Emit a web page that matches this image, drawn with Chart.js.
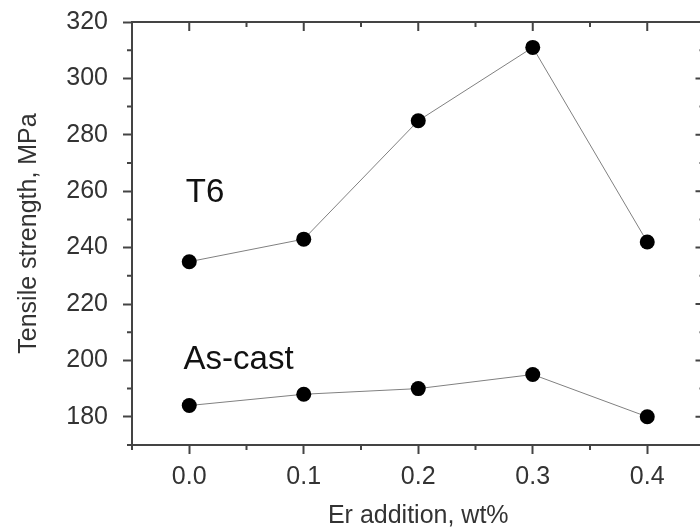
<!DOCTYPE html>
<html>
<head>
<meta charset="utf-8">
<script src="https://cdn.jsdelivr.net/npm/chart.js@4.4.0/dist/chart.umd.min.js"></script>
<style>
    html, body { margin: 0; padding: 0; background: #fff; }
    #wrap { width: 700px; height: 532px; overflow: hidden; position: relative; }
    #chart { display: block; }
</style>
</head>
<body>
<div id="wrap">
    <canvas id="chart" width="712" height="532"></canvas>
</div>
<script>
// Data
const erAddition = [0.0, 0.1, 0.2, 0.3, 0.4];
const t6Strength = [235, 243, 285, 311, 242];
const asCastStrength = [184, 188, 190, 195, 180];
const xTickLabels = ['0.0', '0.1', '0.2', '0.3', '0.4'];
const yTickLabels = [180, 200, 220, 240, 260, 280, 300, 320];

const axisColor = '#444';
const textColor = '#333';
const fontFamily = '"Liberation Sans", Arial, sans-serif';

function toPoints(ys) {
    return erAddition.map((x, i) => ({ x: x, y: ys[i] }));
}

function xMajor(v) {
    return xTickLabels.includes(v.toFixed(1)) && Math.round(v * 20) % 2 === 0;
}
function yMajor(v) {
    return yTickLabels.includes(Math.round(v));
}

// Minor ticks, mirrored top/right axes and in-plot labels
const framePlugin = {
    id: 'frame',
    afterDraw(chart) {
        const ctx = chart.ctx;
        const area = chart.chartArea;
        const xs = chart.scales.x;
        const ys = chart.scales.y;
        ctx.save();
        ctx.strokeStyle = axisColor;
        ctx.lineWidth = 2;
        ctx.beginPath();
        ctx.moveTo(area.left, area.top);
        ctx.lineTo(area.right, area.top);
        ctx.lineTo(area.right, area.bottom);
        ctx.stroke();

        ctx.beginPath();
        xs.ticks.forEach(t => {
            const px = xs.getPixelForValue(t.value);
            const major = xMajor(t.value);
            if (!major) {
                ctx.moveTo(px, area.bottom);
                ctx.lineTo(px, area.bottom + 5);
            }
            ctx.moveTo(px, area.top);
            ctx.lineTo(px, area.top + (major ? 9 : 5));
        });
        ys.ticks.forEach(t => {
            const py = ys.getPixelForValue(t.value);
            const major = yMajor(t.value);
            if (!major) {
                ctx.moveTo(area.left, py);
                ctx.lineTo(area.left - 5, py);
            }
            ctx.moveTo(area.right, py);
            ctx.lineTo(area.right - (major ? 9 : 5), py);
        });
        ctx.stroke();

        ctx.fillStyle = '#111';
        ctx.font = '33px ' + fontFamily;
        ctx.textAlign = 'left';
        ctx.textBaseline = 'alphabetic';
        ctx.fillText('T6', xs.getPixelForValue(-0.003), ys.getPixelForValue(256));
        ctx.fillText('As-cast', xs.getPixelForValue(-0.005), ys.getPixelForValue(197));
        ctx.restore();
    }
};

const lineStyle = {
    showLine: true,
    borderColor: '#808080',
    borderWidth: 1,
    backgroundColor: '#000',
    pointBackgroundColor: '#000',
    pointBorderColor: '#000',
    pointRadius: 7.5,
    pointBorderWidth: 0
};

new Chart(document.getElementById('chart'), {
    type: 'scatter',
    data: {
        datasets: [
            Object.assign({ label: 'T6', data: toPoints(t6Strength) }, lineStyle),
            Object.assign({ label: 'As-cast', data: toPoints(asCastStrength) }, lineStyle)
        ]
    },
    options: {
        responsive: false,
        animation: false,
        devicePixelRatio: 1,
        layout: { padding: { top: 22, right: 2, left: 0, bottom: 0 } },
        plugins: {
            legend: { display: false },
            tooltip: { enabled: false }
        },
        scales: {
            x: {
                type: 'linear',
                min: -0.05,
                max: 0.45,
                afterFit(scale) {
                    scale.height = 87;
                    scale.paddingLeft = 0;
                    scale.paddingRight = 0;
                },
                border: { display: true, color: axisColor, width: 2 },
                grid: {
                    drawOnChartArea: false,
                    drawTicks: true,
                    tickLength: 9,
                    tickWidth: 2,
                    tickColor: ctx => (ctx.tick && xMajor(ctx.tick.value)) ? axisColor : 'rgba(0,0,0,0)'
                },
                ticks: {
                    stepSize: 0.05,
                    autoSkip: false,
                    maxRotation: 0,
                    padding: 8,
                    color: textColor,
                    font: { family: fontFamily, size: 25 },
                    callback: v => xMajor(v) ? v.toFixed(1) : ''
                },
                title: {
                    display: true,
                    text: 'Er addition, wt%',
                    color: textColor,
                    font: { family: fontFamily, size: 25 },
                    padding: { top: 0, bottom: 1 }
                }
            },
            y: {
                min: 170,
                max: 320,
                afterFit(scale) {
                    scale.width = 132;
                    scale.paddingTop = 0;
                    scale.paddingBottom = 0;
                },
                border: { display: true, color: axisColor, width: 2 },
                grid: {
                    drawOnChartArea: false,
                    drawTicks: true,
                    tickLength: 9,
                    tickWidth: 2,
                    tickColor: ctx => (ctx.tick && yMajor(ctx.tick.value)) ? axisColor : 'rgba(0,0,0,0)'
                },
                ticks: {
                    stepSize: 10,
                    autoSkip: false,
                    padding: 15,
                    color: textColor,
                    font: { family: fontFamily, size: 25 },
                    callback: v => yMajor(v) ? String(v) : ''
                },
                title: {
                    display: true,
                    text: 'Tensile strength, MPa',
                    color: textColor,
                    font: { family: fontFamily, size: 25 },
                    padding: { top: 14, bottom: 0 }
                }
            }
        }
    },
    plugins: [framePlugin]
});
</script>
</body>
</html>
